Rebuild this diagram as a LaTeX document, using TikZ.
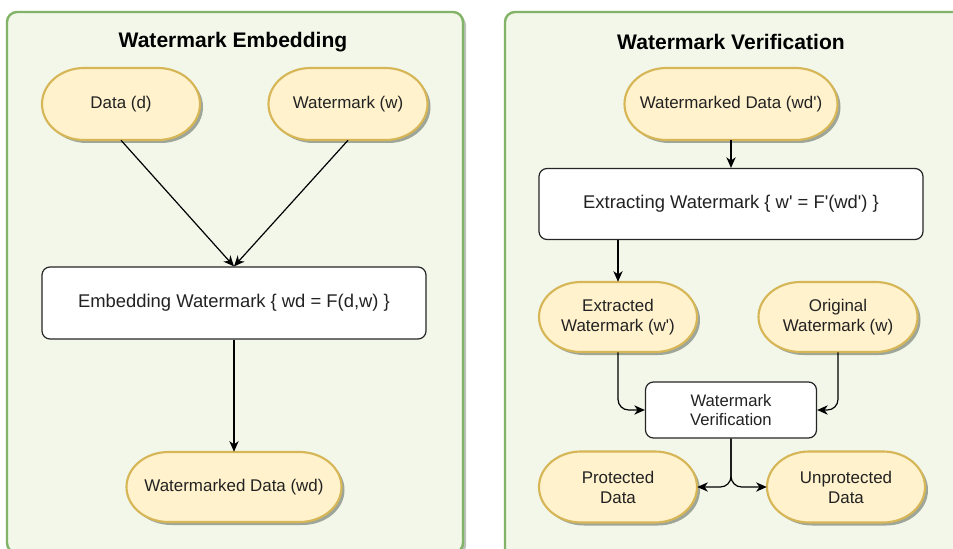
\documentclass[tikz,border=0pt]{standalone}
\usepackage{fontspec}
\setmainfont{Liberation Sans}
\usetikzlibrary{arrows.meta,calc}

\definecolor{panelfill}{HTML}{F2F7EA}
\definecolor{panelline}{HTML}{82B366}
\definecolor{pillfill}{HTML}{FFF2CC}
\definecolor{pillline}{HTML}{D6B656}
\definecolor{shadowcol}{HTML}{9EA69A}
\definecolor{inktext}{HTML}{222222}

% straight apostrophe
\newcommand\sq{\textquotesingle}

% Stadium outline with elliptical ends: style, centre x, centre y, width, height
\newcommand\pillshape[5]{%
  \pgfmathsetmacro\pL{#2-#4/2}\pgfmathsetmacro\pR{#2+#4/2}%
  \pgfmathsetmacro\pT{#3-#5/2}\pgfmathsetmacro\pB{#3+#5/2}%
  \pgfmathsetmacro\pRx{min(42,#4/2)}%
  \pgfmathsetmacro\pa{\pL+\pRx}\pgfmathsetmacro\pb{\pR-\pRx}%
  \pgfmathsetmacro\pkx{0.5523*\pRx}\pgfmathsetmacro\pky{0.5523*#5/2}%
  \path[#1] (\pa,\pT) -- (\pb,\pT)
    .. controls (\pb+\pkx,\pT) and (\pR,#3-\pky) .. (\pR,#3)
    .. controls (\pR,#3+\pky) and (\pb+\pkx,\pB) .. (\pb,\pB)
    -- (\pa,\pB)
    .. controls (\pa-\pkx,\pB) and (\pL,#3+\pky) .. (\pL,#3)
    .. controls (\pL,#3-\pky) and (\pa-\pkx,\pT) .. (\pa,\pT) -- cycle;%
}
% Data node: name, centre x, centre y, width, height, text
\newcommand\pill[6]{%
  \pillshape{fill=shadowcol, shift={(3,3)}}{#2}{#3}{#4}{#5}%
  \pillshape{fill=pillfill, draw=pillline, line width=1.6pt}{#2}{#3}{#4}{#5}%
  \node[pilltext, minimum width={#4*0.75pt}, minimum height={#5*0.75pt}] (#1) at (#2,#3) {#6};%
}

\tikzset{
  panel/.style={fill=panelfill, draw=panelline, line width=1.8pt, rounded corners=7.5pt},
  panelshadow/.style={fill=shadowcol!70, rounded corners=7.5pt},
  paneltitle/.style={font=\fontsize{15.8}{18}\selectfont\bfseries, text=black},
  pilltext/.style={shape=rectangle, inner sep=0pt, align=center, text=inktext,
    font=\fontsize{12.7}{15}\selectfont},
  procbox/.style={shape=rectangle, draw=black!85, fill=white, line width=0.9pt,
    rounded corners=6pt, align=center, text=inktext, font=\fontsize{13.8}{16}\selectfont},
  smallbox/.style={procbox, font=\fontsize{12.5}{14.5}\selectfont},
  arr/.style={draw=black, line width=0.9pt,
    -{Stealth[length=8pt, width=7pt, inset=2.5pt]}},
}

\begin{document}
\begin{tikzpicture}[x=0.75pt, y=-0.75pt]
  \useasboundingbox (0,0) rectangle (953,549);
  \clip (0,0) rectangle (953,549);
  \fill[white] (0,0) rectangle (953,549);

  % panels
  \fill[panelshadow] (10,15) rectangle (466,556);
  \draw[panel] (7,12) rectangle (463,553);
  \fill[panelshadow] (508,15) rectangle (968,563);
  \draw[panel] (505,12) rectangle (965,560);

  \node[paneltitle] (t1) at (233,42) {Watermark Embedding};
  \node[paneltitle] (t2) at (731,42) {Watermark Verification};

  % embedding side
  \pill{data}{121}{104}{158}{72}{Data (d)}
  \pill{wm}{348}{104}{159}{72}{Watermark (w)}
  \node[procbox, minimum width={384*0.75pt}, minimum height={72*0.75pt}] (embed) at (234,303)
    {Embedding Watermark \{ wd = F(d,w) \}};
  \pill{wmd}{234}{487}{215}{70}{Watermarked Data (wd)}

  \draw[arr] (data.south) -- (embed.north);
  \draw[arr] (wm.south) -- (embed.north);
  \draw[arr] (embed.south) -- (wmd.north);

  % verification side
  \pill{wmdv}{731}{104}{213}{72}{Watermarked Data (wd\sq)}
  \node[procbox, minimum width={384*0.75pt}, minimum height={71*0.75pt}] (extract) at (731,204)
    {Extracting Watermark \{ w\sq{} = F\sq(wd\sq) \}};
  \pill{ext}{618}{317}{158}{70}{Extracted\\Watermark (w\sq)}
  \pill{orig}{838}{317}{159}{70}{Original\\Watermark (w)}
  \node[smallbox, minimum width={171*0.75pt}, minimum height={56*0.75pt}] (verif) at (731,410)
    {Watermark\\Verification};
  \pill{prot}{618}{487}{158}{71}{Protected\\Data}
  \pill{unprot}{846}{487}{158}{71}{Unprotected\\Data}

  \draw[arr] (wmdv.south) -- (extract.north);
  \draw[arr] (ext.north |- extract.south) -- (ext.north);
  \draw[arr, rounded corners=8pt] (ext.south) |- (verif.west);
  \draw[arr, rounded corners=8pt] (orig.south) |- (verif.east);
  \draw[arr, rounded corners=8pt] (verif.south) |- (prot.east);
  \draw[arr, rounded corners=8pt] (verif.south) |- (unprot.west);
\end{tikzpicture}
\end{document}
